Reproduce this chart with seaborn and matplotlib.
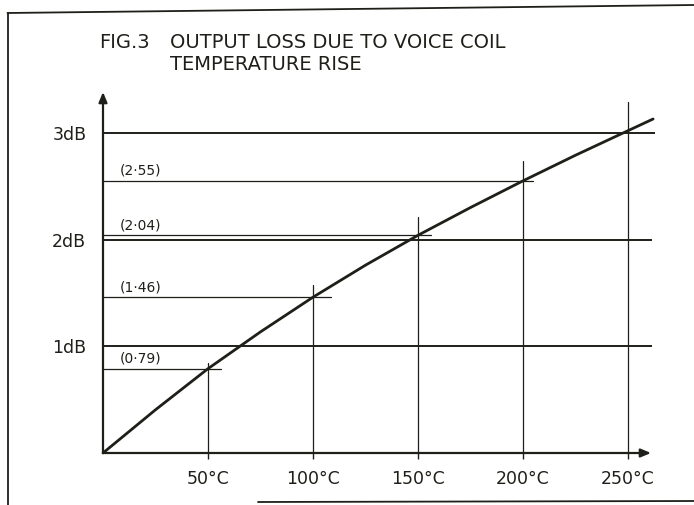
import matplotlib
matplotlib.use("Agg")
import matplotlib.pyplot as plt
from matplotlib.lines import Line2D
import seaborn as sns

# Temperature rise of the voice coil (°C) and the resulting output loss (dB)
temp_rise = [0, 25, 50, 75, 100, 125, 150, 175, 200, 225, 250, 262]
loss_db = [0, 0.405, 0.79, 1.135, 1.46, 1.76, 2.04, 2.30, 2.55, 2.79, 3.02, 3.13]

# Marked readings
marked_temps = [50, 100, 150, 200]
marked_loss = [0.79, 1.46, 2.04, 2.55]
marked_labels = ["(0·79)", "(1·46)", "(2·04)", "(2·55)"]

# Axis ticks
x_ticks = [50, 100, 150, 200, 250]
x_tick_labels = ["50°C", "100°C", "150°C", "200°C", "250°C"]
y_ticks = [1, 2, 3]
y_tick_labels = ["1dB", "2dB", "3dB"]

title_fig = "FIG.3"
title_lines = ["OUTPUT LOSS DUE TO VOICE COIL", "TEMPERATURE RISE"]

INK = "#1f1f1a"

sns.set_style("white")
plt.rcParams["font.family"] = ["DejaVu Sans"]

W, H = 694, 505
fig = plt.figure(figsize=(W / 100, H / 100), dpi=100)
fig.patch.set_facecolor("white")

# axes: origin at the corner of the drawn axes, arrow tips at the limits
x0, y0, x1, y1 = 103, 453, 651, 92
ax = fig.add_axes([x0 / W, (H - y0) / H, (x1 - x0) / W, (y0 - y1) / H])
x_max, y_max = 261, 3.383
ax.set_xlim(0, x_max)
ax.set_ylim(0, y_max)
for s in ax.spines.values():
    s.set_visible(False)
ax.set_facecolor("none")

# reference lines at whole dB values
for yv in y_ticks:
    ax.plot([0, 263 if yv == 3 else 261.5], [yv, yv], color=INK, lw=1.4,
            clip_on=False, solid_capstyle="butt")

# vertical guides at each temperature step
guide_overshoot = [0.05, 0.11, 0.17, 0.19, 0.27]
guide_tops = [*marked_loss, 3.02]
for xv, top, extra in zip(x_ticks, guide_tops, guide_overshoot):
    ax.plot([xv, xv], [0, top + extra], color=INK, lw=0.9, clip_on=False)

# horizontal read-off lines with their values
read_overshoot = [6, 8.5, 6, 5]
for xv, yv, lab, extra in zip(marked_temps, marked_loss, marked_labels, read_overshoot):
    ax.plot([0, xv + extra], [yv, yv], color=INK, lw=0.9, clip_on=False)
    ax.text(8, yv + 0.095, lab, fontsize=10, color=INK, ha="left", va="center")

# loss curve
sns.lineplot(x=temp_rise, y=loss_db, ax=ax, color=INK, lw=2.0, sort=False,
             clip_on=False)

# axes with arrow heads
arrow_kw = dict(arrowstyle="-|>,head_length=0.6,head_width=0.25", color=INK,
                lw=1.6, shrinkA=0, shrinkB=0)
ax.annotate("", xy=(x_max, 0), xytext=(0, 0), arrowprops=arrow_kw,
            annotation_clip=False)
ax.annotate("", xy=(0, y_max), xytext=(0, 0), arrowprops=arrow_kw,
            annotation_clip=False)

ax.set_xticks(x_ticks)
ax.set_xticklabels(x_tick_labels, fontsize=12.5, color=INK)
ax.set_yticks(y_ticks)
ax.set_yticklabels(y_tick_labels, fontsize=12.5, color=INK)
ax.tick_params(axis="x", direction="out", length=4, width=1, color=INK, pad=8,
               bottom=True)
ax.tick_params(axis="y", length=0, pad=12)
ax.set_xlabel("")
ax.set_ylabel("")

# title
fig.text(99 / W, 1 - 42 / H, title_fig, fontsize=14, color=INK, ha="left", va="center")
fig.text(170 / W, 1 - 42 / H, title_lines[0], fontsize=14, color=INK, ha="left", va="center")
fig.text(170 / W, 1 - 65 / H, title_lines[1], fontsize=14, color=INK, ha="left", va="center")

# page frame
frame_kw = dict(color=INK, lw=1.3, transform=fig.transFigure)
fig.add_artist(Line2D([7.5 / W, 7.5 / W], [0, 1 - 13 / H], **frame_kw))
fig.add_artist(Line2D([7.5 / W, 1], [1 - 13 / H, 1 - 5 / H], **frame_kw))
fig.add_artist(Line2D([258 / W, 1], [1 - 502 / H, 1 - 501 / H], **frame_kw))

fig.savefig("out.png", dpi=100, facecolor="white")
